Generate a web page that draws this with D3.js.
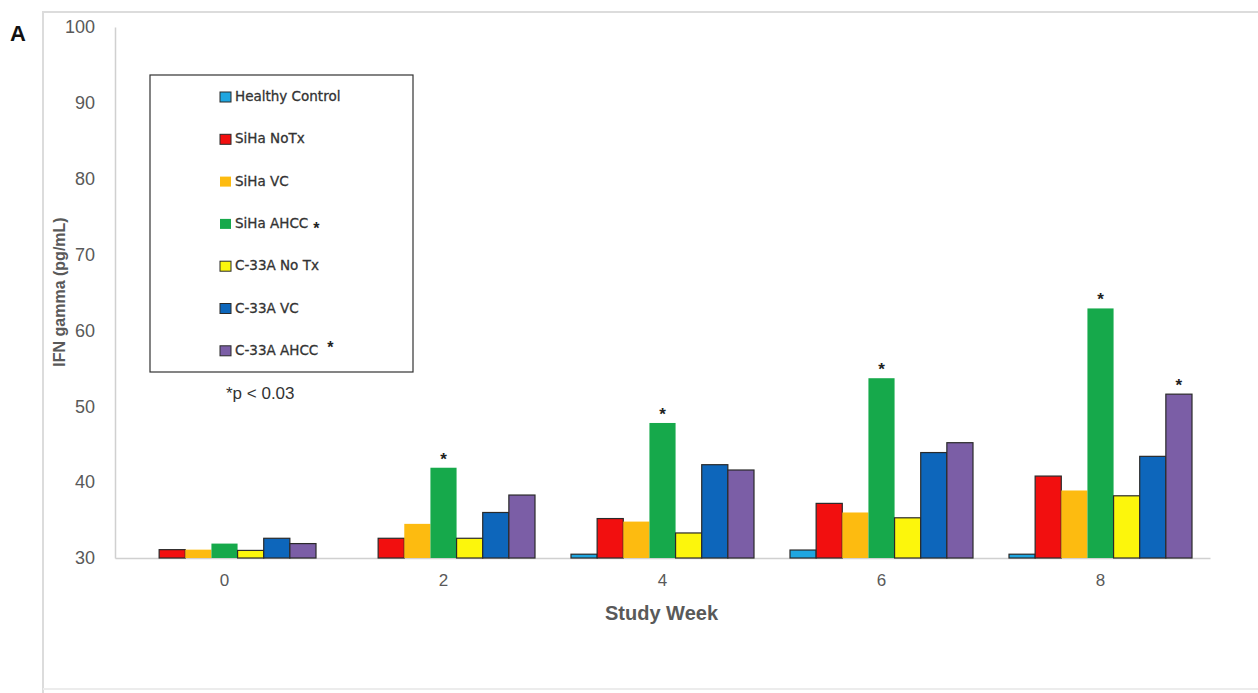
<!DOCTYPE html>
<html lang="en">
<head>
  <meta charset="UTF-8">
  <title>IFN gamma by Study Week</title>
  <script src="https://d3js.org/d3.v7.min.js"></script>
  <style>
    body { margin: 0; background: #fff; }
    text { font-family: "Liberation Sans", Arial, sans-serif; }
    .tick text { fill: #595959; font-size: 17px; font-family: "Liberation Sans", Arial, sans-serif; }
    .legend-label { font-family: "DejaVu Sans", sans-serif; font-size: 13.5px; fill: #333; stroke: #333; stroke-width: 0.3; }
  </style>
</head>
<body>
  <svg width="1258" height="693"></svg>

  <script>
    // Data
    const weeks = ["0", "2", "4", "6", "8"];
    const seriesNames = ["Healthy Control", "SiHa NoTx", "SiHa VC", "SiHa AHCC", "C-33A No Tx", "C-33A VC", "C-33A AHCC"];
    const healthyControl = [30.0, 30.0, 30.5, 31.05, 30.5];
    const sihaNoTx      = [31.1, 32.6, 35.2, 37.2, 40.8];
    const sihaVC        = [31.1, 34.5, 34.8, 36.0, 38.9];
    const sihaAHCC      = [31.9, 41.9, 47.8, 53.7, 62.9];
    const c33aNoTx      = [31.0, 32.6, 33.3, 35.3, 38.2];
    const c33aVC        = [32.6, 36.0, 42.3, 43.9, 43.4];
    const c33aAHCC      = [31.9, 38.3, 41.6, 45.2, 51.6];
    const yTicks = [30, 40, 50, 60, 70, 80, 90, 100];
    // significance stars: [series index, week index]
    const stars = [[3, 1], [3, 2], [3, 3], [3, 4], [6, 4]];

    const allSeries = [healthyControl, sihaNoTx, sihaVC, sihaAHCC, c33aNoTx, c33aVC, c33aAHCC];
    const colors = ["#1fa6e0", "#f20f0f", "#fdbb10", "#16a94b", "#fcf60c", "#0d66bb", "#7b5ea6"];
    const outlined = [true, true, false, false, true, true, true];

    const svg = d3.select("svg");
    const plotLeft = 115, plotRight = 1210, plotTop = 27, plotBottom = 558;

    // outer frame of the figure panel
    svg.append("path")
      .attr("d", "M43,693 L43,12 L1258,12")
      .attr("fill", "none")
      .attr("stroke", "#dcdcdc")
      .attr("stroke-width", 2);
    svg.append("line")
      .attr("x1", 43).attr("x2", 1258).attr("y1", 689).attr("y2", 689)
      .attr("stroke", "#ececec").attr("stroke-width", 2);

    svg.append("text")
      .attr("x", 10).attr("y", 41)
      .attr("font-size", 22).attr("font-weight", "bold").attr("fill", "#111")
      .text("A");

    const x0 = d3.scaleBand().domain(weeks).range([plotLeft, plotRight]).paddingInner(0).paddingOuter(0);
    const x1 = d3.scaleBand().domain(d3.range(seriesNames.length))
      .range([18, x0.bandwidth() - 18]).padding(0);
    const y = d3.scaleLinear().domain([30, 100]).range([plotBottom, plotTop]);

    // Y axis
    const yAxis = svg.append("g")
      .attr("transform", `translate(${plotLeft},0)`)
      .call(d3.axisLeft(y).tickValues(yTicks).tickSize(0).tickPadding(20));
    yAxis.select(".domain").attr("stroke", "#d0d0d0").attr("stroke-width", 1.5);
    yAxis.selectAll(".tick text").style("font-size", "18px");

    // X axis
    const xAxis = svg.append("g")
      .attr("transform", `translate(0,${plotBottom})`)
      .call(d3.axisBottom(x0).tickSize(0).tickPadding(16));
    xAxis.select(".domain").attr("stroke", "#d0d0d0").attr("stroke-width", 1.5);

    // Bars
    const groups = svg.append("g").selectAll("g")
      .data(weeks)
      .join("g")
      .attr("transform", d => `translate(${x0(d)},0)`);

    groups.selectAll("rect")
      .data((w, wi) => allSeries.map((s, si) => ({ si, v: s[wi] })))
      .join("rect")
      .attr("x", d => x1(d.si))
      .attr("y", d => y(d.v))
      .attr("width", x1.bandwidth())
      .attr("height", d => y(30) - y(d.v))
      .attr("fill", d => colors[d.si])
      .attr("stroke", d => outlined[d.si] && d.v > 30 ? "#2a2a2a" : "none")
      .attr("stroke-width", 1.2);

    // Stars
    svg.append("g").selectAll("text")
      .data(stars)
      .join("text")
      .attr("x", d => x0(weeks[d[1]]) + x1(d[0]) + x1.bandwidth() / 2)
      .attr("y", d => y(allSeries[d[0]][d[1]]) - 3)
      .attr("text-anchor", "middle")
      .attr("font-size", 17)
      .attr("font-weight", "bold")
      .attr("fill", "#222")
      .text("*");

    // Axis titles
    svg.append("text")
      .attr("transform", "translate(65,292) rotate(-90)")
      .attr("text-anchor", "middle")
      .attr("font-size", 16).attr("font-weight", "bold").attr("fill", "#595959")
      .text("IFN gamma (pg/mL)");

    svg.append("text")
      .attr("x", (plotLeft + plotRight) / 2 - 1).attr("y", 620)
      .attr("text-anchor", "middle")
      .attr("font-size", 20).attr("font-weight", "bold").attr("fill", "#595959")
      .text("Study Week");

    // Legend
    svg.append("rect")
      .attr("x", 150).attr("y", 75).attr("width", 263).attr("height", 297)
      .attr("fill", "#fff").attr("stroke", "#333").attr("stroke-width", 1.2);

    const legend = svg.append("g").selectAll("g")
      .data(seriesNames)
      .join("g")
      .attr("transform", (d, i) => `translate(220,${96 + i * 42.3})`);

    legend.append("rect")
      .attr("x", 0).attr("y", -4).attr("width", 11).attr("height", 10)
      .attr("fill", (d, i) => colors[i])
      .attr("stroke", (d, i) => outlined[i] ? "#2a2a2a" : "none")
      .attr("stroke-width", 1);

    const labels = legend.append("text")
      .attr("class", "legend-label")
      .attr("x", 15).attr("y", 5)
      .text(d => d);

    // stars after two of the legend entries
    labels.each(function (d, i) {
      if (i !== 3 && i !== 6) return;
      const w = this.getComputedTextLength();
      d3.select(this.parentNode).append("text")
        .attr("x", 15 + w + (i === 3 ? 5 : 9))
        .attr("y", i === 3 ? 11 : 3)
        .attr("font-size", 16).attr("font-weight", "bold").attr("fill", "#222")
        .text("*");
    });

    svg.append("text")
      .attr("x", 226).attr("y", 399)
      .attr("font-size", 17).attr("fill", "#333")
      .text("*p < 0.03");
  </script>
</body>
</html>
